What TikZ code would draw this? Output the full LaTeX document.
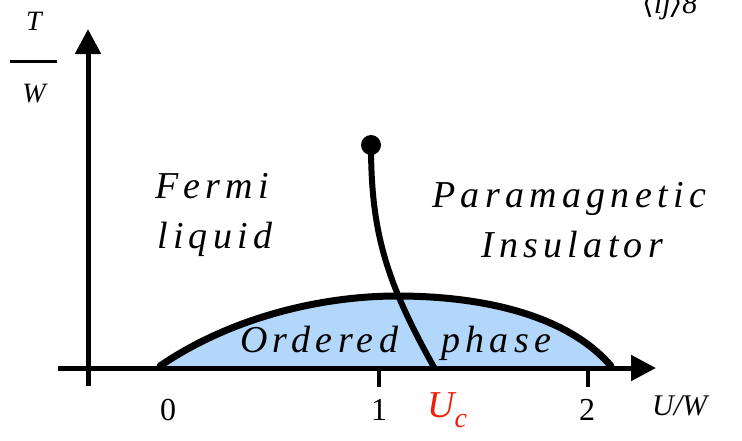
\documentclass[tikz,border=0pt]{standalone}
\usepackage{fontspec}
\setmainfont{Liberation Serif}
\newfontfamily\spacedit[LetterSpace=14,ItalicFont={Liberation Serif Italic}]{Liberation Serif}
\newfontfamily\brfont{DejaVu Serif}
\usetikzlibrary{arrows.meta}
\definecolor{domeblue}{HTML}{B3D7FA}
\definecolor{ucred}{HTML}{F01E0A}
\tikzset{
  axisline/.style={line width=5pt,-{Triangle[length=25pt,width=25pt]}},
  regionlabel/.style={font=\fontsize{38}{40}\selectfont\spacedit\itshape,inner sep=0pt,anchor=base west},
  ticklabel/.style={font=\fontsize{32}{34}\selectfont,inner sep=0pt,anchor=base},
  axislabel/.style={font=\fontsize{28}{30}\selectfont\itshape,inner sep=0pt,anchor=base},
}
\begin{document}
\begin{tikzpicture}[x=1pt,y=-1pt]
\useasboundingbox (0,0) rectangle (742,440);
% dome
\fill[domeblue] (160,366) .. controls (230,318) and (320,296) .. (397,296) .. controls (490,296) and (570,318) .. (611,366) -- cycle;
% axes
\coordinate (xs) at (58,368);
\coordinate (xe) at (656,368);
\coordinate (ys) at (88,386);
\coordinate (ye) at (88,29);
\draw[axisline] (xs) -- (xe);
\draw[axisline] (ys) -- (ye);
% ticks
\coordinate (t1a) at (379,368); \coordinate (t1b) at (379,387);
\coordinate (t2a) at (588,368); \coordinate (t2b) at (588,387);
\draw[line width=4pt] (t1a) -- (t1b);
\draw[line width=4pt] (t2a) -- (t2b);
% dome outline
\draw[line width=7pt,line cap=round] (160,366) .. controls (230,318) and (320,296) .. (397,296) .. controls (490,296) and (570,318) .. (611,366);
% critical line
\coordinate (cp) at (371,145);
\coordinate (cend) at (435,369);
\draw[line width=6pt] (cp) .. controls (371,232) and (386,282) .. (cend);
\fill (cp) circle (10);
% region labels
\node[regionlabel] (fermi) at (155,198) {Fermi};
\node[regionlabel] (liquid) at (157,248) {liquid};
\node[regionlabel] (para) at (432,207) {Paramagnetic};
\node[regionlabel] (insul) at (481,257) {Insulator};
\node[regionlabel] (ordered) at (240,352) {Ordered};
\node[regionlabel] (phase) at (441,352) {phase};
% tick labels
\node[ticklabel] (l0) at (168,420) {0};
\node[ticklabel] (l1) at (379,420) {1};
\node[ticklabel] (l2) at (587,420) {2};
\node[font=\fontsize{38}{40}\selectfont\itshape,inner sep=0pt,anchor=base west,text=ucred] (uc) at (427,417) {U\raisebox{-0.28em}{\fontsize{28}{30}\selectfont c}};
\node[font=\fontsize{30}{32}\selectfont\itshape,inner sep=0pt,anchor=base west] (uw) at (652,415) {U/W};
% T/W
\node[axislabel] (tt) at (34,30) {T};
\coordinate (fb1) at (10,61); \coordinate (fb2) at (57,61);
\draw[line width=3pt] (fb1) -- (fb2);
\node[axislabel] (ww) at (34,102) {W};
% clipped top-right text
\begin{scope}
\clip (600,0) rectangle (742,440);
\node[font=\fontsize{30}{32}\selectfont,inner sep=0pt,anchor=base west] (tr) at (642,13) {{\brfont ⟨}\itshape ij{\brfont ⟩}8};
\end{scope}
\end{tikzpicture}
\end{document}
